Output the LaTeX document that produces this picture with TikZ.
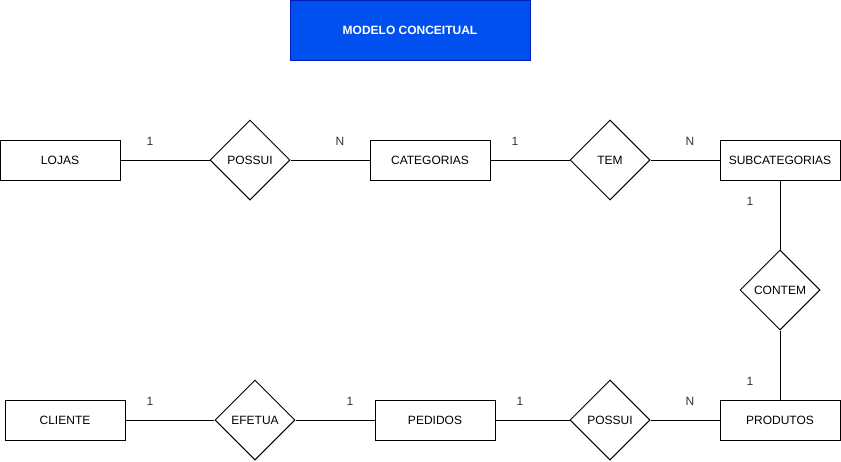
\documentclass[tikz,border=0pt]{standalone}
\usepackage{fontspec}
\setmainfont{Liberation Sans}
\usetikzlibrary{shapes.geometric}
\definecolor{titleblue}{HTML}{0050EF}
\definecolor{titleedge}{HTML}{001DBC}

\tikzset{
	entity/.style={draw, line width=1pt, minimum width=120pt, minimum height=40pt, inner sep=0pt, anchor=center},
	relation/.style={draw, diamond, line width=1pt, minimum width=80pt, minimum height=80pt, inner sep=0pt, aspect=1},
	card/.style={inner sep=0pt, text=black!80},
	link/.style={line width=1pt}
}

\begin{document}
\begin{tikzpicture}[x=1pt, y=-1pt, font=\fontsize{12}{14}\selectfont]
		\useasboundingbox (0,0) rectangle (841,461);
		% titulo
		\node[draw=titleedge, fill=titleblue, line width=1pt, minimum width=240pt, minimum height=60pt, text=white, font=\fontsize{12}{14}\selectfont\bfseries] (titulo) at (410,30) {MODELO CONCEITUAL};
		% linha de cima
		\node[entity] (lojas) at (60,160) {LOJAS};
		\node[relation] (possui1) at (250,160) {POSSUI};
		\node[entity] (categorias) at (430,160) {CATEGORIAS};
		\node[relation] (tem) at (610,160) {TEM};
		\node[entity] (subcategorias) at (780,160) {SUBCATEGORIAS};
		% meio
		\node[relation] (contem) at (780,290) {CONTEM};
		% linha de baixo
		\node[entity] (produtos) at (780,420) {PRODUTOS};
		\node[relation] (possui2) at (610,420) {POSSUI};
		\node[entity] (pedidos) at (435,420) {PEDIDOS};
		\node[relation] (efetua) at (255,420) {EFETUA};
		\node[entity] (cliente) at (65,420) {CLIENTE};
		% ligacoes
		\draw[link] (lojas) -- (possui1) -- (categorias) -- (tem) -- (subcategorias);
		\draw[link] (subcategorias) -- (contem) -- (produtos);
		\draw[link] (produtos) -- (possui2) -- (pedidos) -- (efetua) -- (cliente);
		% cardinalidades
		\node[card] (c1) at (150,141) {1};
		\node[card] (c2) at (340,141) {N};
		\node[card] (c3) at (515,141) {1};
		\node[card] (c4) at (690,141) {N};
		\node[card] (c5) at (750,201) {1};
		\node[card] (c6) at (750,381) {1};
		\node[card] (c7) at (150,401) {1};
		\node[card] (c8) at (350,401) {1};
		\node[card] (c9) at (520,401) {1};
		\node[card] (c10) at (690,401) {N};
	\end{tikzpicture}
\end{document}
